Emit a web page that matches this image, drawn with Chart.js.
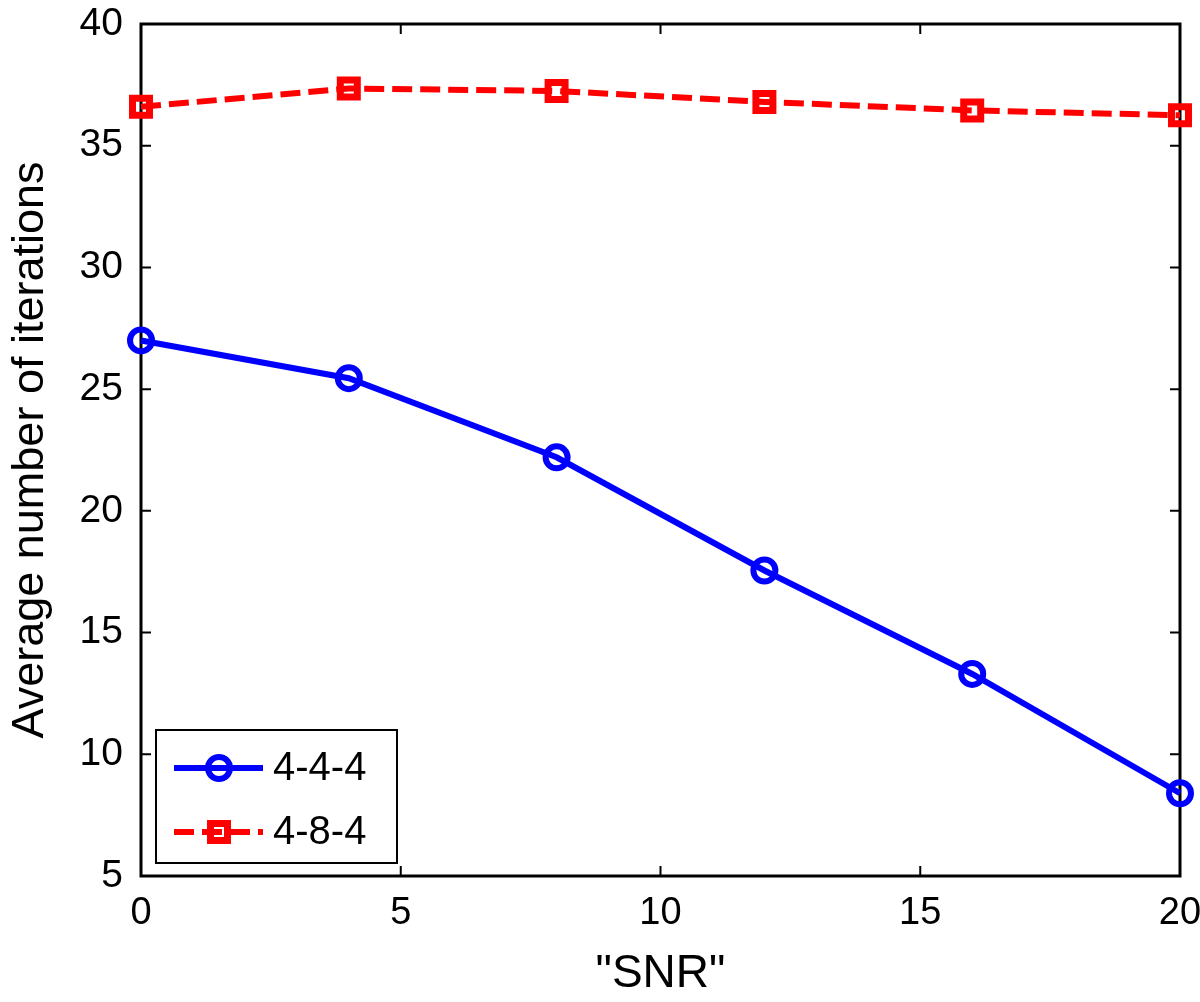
<!DOCTYPE html>
<html>
<head>
<meta charset="utf-8">
<script src="https://cdn.jsdelivr.net/npm/chart.js@4.4.0/dist/chart.umd.min.js"></script>
<style>
  html, body { margin: 0; padding: 0; background: #fff; overflow: hidden; }
  #wrap { width: 1200px; height: 1002px; }
  canvas { display: block; }
</style>
</head>
<body>
<div id="wrap"><canvas id="chart"></canvas></div>
<script>
// Données
const snrValues = [0, 4, 8, 12, 16, 20];
const iters444 = [27.0, 25.45, 22.2, 17.55, 13.3, 8.4];
const iters484 = [36.6, 37.35, 37.25, 36.8, 36.45, 36.25];
const seriesLabels = ['4-4-4', '4-8-4'];
const xTicks = [0, 5, 10, 15, 20];
const yTicks = [5, 10, 15, 20, 25, 30, 35, 40];

const FONT = '"Liberation Sans", Arial, Helvetica, sans-serif';

// Cadre, graduations vers l'intérieur et légende dessinés à la main (style MATLAB)
const matlabFrame = {
    id: 'matlabFrame',
    beforeDatasetsDraw(chart) {
        const { ctx, chartArea: a, scales } = chart;
        ctx.save();
        ctx.strokeStyle = '#000';
        ctx.lineWidth = 3;
        ctx.strokeRect(a.left, a.top, a.right - a.left, a.bottom - a.top);
        ctx.lineWidth = 2;
        const len = 10;
        ctx.beginPath();
        xTicks.forEach(v => {
            const px = scales.x.getPixelForValue(v);
            ctx.moveTo(px, a.bottom); ctx.lineTo(px, a.bottom - len);
            ctx.moveTo(px, a.top); ctx.lineTo(px, a.top + len);
        });
        yTicks.forEach(v => {
            const py = scales.y.getPixelForValue(v);
            ctx.moveTo(a.left, py); ctx.lineTo(a.left + len, py);
            ctx.moveTo(a.right, py); ctx.lineTo(a.right - len, py);
        });
        ctx.stroke();
        ctx.restore();
    },
    afterDraw(chart) {
        const { ctx, chartArea: a } = chart;
        const bx = a.left + 15, by = a.bottom - 146, bw = 241, bh = 133;
        ctx.save();
        ctx.fillStyle = '#fff';
        ctx.fillRect(bx, by, bw, bh);
        ctx.strokeStyle = '#000';
        ctx.lineWidth = 2;
        ctx.strokeRect(bx, by, bw, bh);

        const rows = [by + 38, by + 102];
        chart.data.datasets.forEach((ds, i) => {
            const y = rows[i];
            ctx.strokeStyle = ds.borderColor;
            ctx.lineWidth = ds.borderWidth;
            ctx.setLineDash(ds.borderDash || []);
            ctx.beginPath();
            ctx.moveTo(bx + 18, y);
            ctx.lineTo(bx + 107, y);
            ctx.stroke();
            ctx.setLineDash([]);
            ctx.lineWidth = ds.pointBorderWidth;
            const cx = bx + 63;
            if (ds.pointStyle === 'rect') {
                const h = ds.pointRadius * Math.SQRT1_2;
                ctx.strokeRect(cx - h, y - h, 2 * h, 2 * h);
            } else {
                ctx.beginPath();
                ctx.arc(cx, y, ds.pointRadius, 0, Math.PI * 2);
                ctx.stroke();
            }
            ctx.fillStyle = '#000';
            ctx.font = '40px ' + FONT;
            ctx.textAlign = 'left';
            ctx.textBaseline = 'middle';
            ctx.fillText(ds.label, bx + 117, y + 1);
        });
        ctx.restore();
    }
};

const ctx = document.getElementById('chart').getContext('2d');
new Chart(ctx, {
    type: 'line',
    data: {
        datasets: [
            {
                label: seriesLabels[0],
                data: snrValues.map((x, i) => ({ x: x, y: iters444[i] })),
                borderColor: '#0000ff',
                borderWidth: 6,
                pointStyle: 'circle',
                pointRadius: 11,
                pointBorderWidth: 6,
                pointBackgroundColor: 'rgba(255,255,255,0)',
                pointBorderColor: '#0000ff',
                tension: 0,
                clip: false
            },
            {
                label: seriesLabels[1],
                data: snrValues.map((x, i) => ({ x: x, y: iters484[i] })),
                borderColor: '#ff0000',
                borderWidth: 6,
                borderDash: [20, 8],
                pointStyle: 'rect',
                pointRadius: 12,
                pointBorderWidth: 7,
                pointBackgroundColor: 'rgba(255,255,255,0)',
                pointBorderColor: '#ff0000',
                tension: 0,
                clip: false
            }
        ]
    },
    options: {
        responsive: true,
        maintainAspectRatio: false,
        animation: false,
        layout: { padding: { top: 24, right: 20, left: 0, bottom: 0 } },
        plugins: {
            legend: { display: false },
            tooltip: { enabled: false }
        },
        scales: {
            x: {
                type: 'linear',
                min: 0,
                max: 20,
                afterBuildTicks: s => { s.ticks = xTicks.map(v => ({ value: v })); },
                afterFit: s => { s.height = 126; s.paddingRight = 0; s.paddingLeft = 0; },
                grid: { display: false, drawTicks: false },
                border: { display: false },
                ticks: { color: '#000', font: { family: FONT, size: 38 }, padding: 15, maxRotation: 0 },
                title: { display: true, text: '"SNR"', color: '#000', font: { family: FONT, size: 46 }, padding: { top: 4, bottom: 0 } }
            },
            y: {
                type: 'linear',
                min: 5,
                max: 40,
                afterBuildTicks: s => { s.ticks = yTicks.map(v => ({ value: v })); },
                afterFit: s => { s.width = 141; s.paddingTop = 0; s.paddingBottom = 0; },
                grid: { display: false, drawTicks: false },
                border: { display: false },
                ticks: { color: '#000', font: { family: FONT, size: 39 }, padding: 18 },
                title: { display: true, text: 'Average number of iterations', color: '#000', font: { family: FONT, size: 45 }, padding: { bottom: 0 } }
            }
        }
    },
    plugins: [matlabFrame]
});
</script>
</body>
</html>
